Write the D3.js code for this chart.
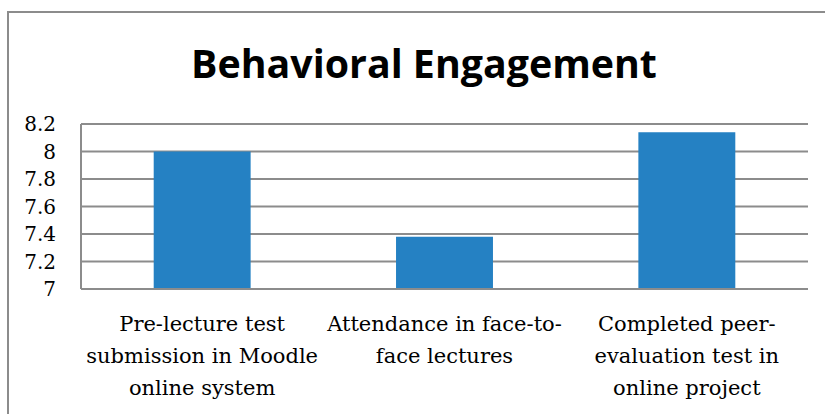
<!DOCTYPE html>
<html>
<head>
<meta charset="utf-8">
<script src="https://cdn.jsdelivr.net/npm/d3@7"></script>
<style>
  body { margin: 0; background: #fff; }
  svg { display: block; }
</style>
</head>
<body>
<div id="chart"></div>
<script>
// data
var categories = [
  ["Pre-lecture test", "submission in Moodle", "online system"],
  ["Attendance in face-to-", "face lectures"],
  ["Completed peer-", "evaluation test in", "online project"]
];
var values = [8.0, 7.38, 8.14];
var yTicks = [7, 7.2, 7.4, 7.6, 7.8, 8, 8.2];
var titleText = "Behavioral Engagement";

var width = 825, height = 414;
var margin = {left: 81, right: 17, top: 124, bottom: 125};

var svg = d3.select("#chart").append("svg")
    .attr("width", width)
    .attr("height", height);

// outer chart frame (cut off at right and bottom)
svg.append("rect")
    .attr("x", 8).attr("y", 12)
    .attr("width", 840).attr("height", 430)
    .attr("fill", "none")
    .attr("stroke", "#8c8c8c")
    .attr("stroke-width", 2);

var x = d3.scaleBand()
    .domain(d3.range(categories.length))
    .range([margin.left, width - margin.right])
    .paddingInner(0.6)
    .paddingOuter(0.3);

var y = d3.scaleLinear()
    .domain([7, 8.2])
    .range([height - margin.bottom, margin.top]);

// gridlines
svg.append("g")
    .selectAll("line")
    .data(yTicks)
    .enter().append("line")
    .attr("x1", margin.left)
    .attr("x2", width - margin.right)
    .attr("y1", function(d) { return y(d); })
    .attr("y2", function(d) { return y(d); })
    .attr("stroke", "#8c8c8c")
    .attr("stroke-width", 2);

// left axis line
svg.append("line")
    .attr("x1", margin.left).attr("x2", margin.left)
    .attr("y1", y(8.2)).attr("y2", y(7))
    .attr("stroke", "#8c8c8c")
    .attr("stroke-width", 2);

// bars
svg.append("g")
    .selectAll("rect")
    .data(values)
    .enter().append("rect")
    .attr("x", function(d, i) { return x(i); })
    .attr("width", x.bandwidth())
    .attr("y", function(d) { return y(d); })
    .attr("height", function(d) { return y(7) - y(d) - 1; })
    .attr("fill", "#2581c3");

// y tick labels
svg.append("g")
    .selectAll("text")
    .data(yTicks)
    .enter().append("text")
    .attr("x", 56)
    .attr("y", function(d) { return y(d); })
    .attr("dy", "0.35em")
    .attr("text-anchor", "end")
    .attr("font-family", "DejaVu Serif, serif")
    .attr("font-size", 20)
    .attr("fill", "#000")
    .text(function(d) { return d3.format("")(+d.toFixed(1)); });

// category labels
var catG = svg.append("g")
    .selectAll("text")
    .data(categories)
    .enter().append("text")
    .attr("text-anchor", "middle")
    .attr("font-family", "DejaVu Serif, serif")
    .attr("font-size", 21)
    .attr("fill", "#000");

catG.selectAll("tspan")
    .data(function(d, i) { return d.map(function(l) { return {line: l, i: i}; }); })
    .enter().append("tspan")
    .attr("x", function(d) { return x(d.i) + x.bandwidth() / 2; })
    .attr("y", function(d, j) { return 331 + j * 32; })
    .text(function(d) { return d.line; });

// title
var title = svg.append("text")
    .attr("x", 424)
    .attr("y", 78)
    .attr("text-anchor", "middle")
    .attr("font-family", "Open Sans, sans-serif")
    .attr("font-weight", "bold")
    .attr("font-size", 40)
    .attr("fill", "#000")
    .text(titleText);

// fit title to its width in the picture
var tw = title.node().getComputedTextLength();
title.attr("font-size", 40 * 466 / tw);
</script>
</body>
</html>
